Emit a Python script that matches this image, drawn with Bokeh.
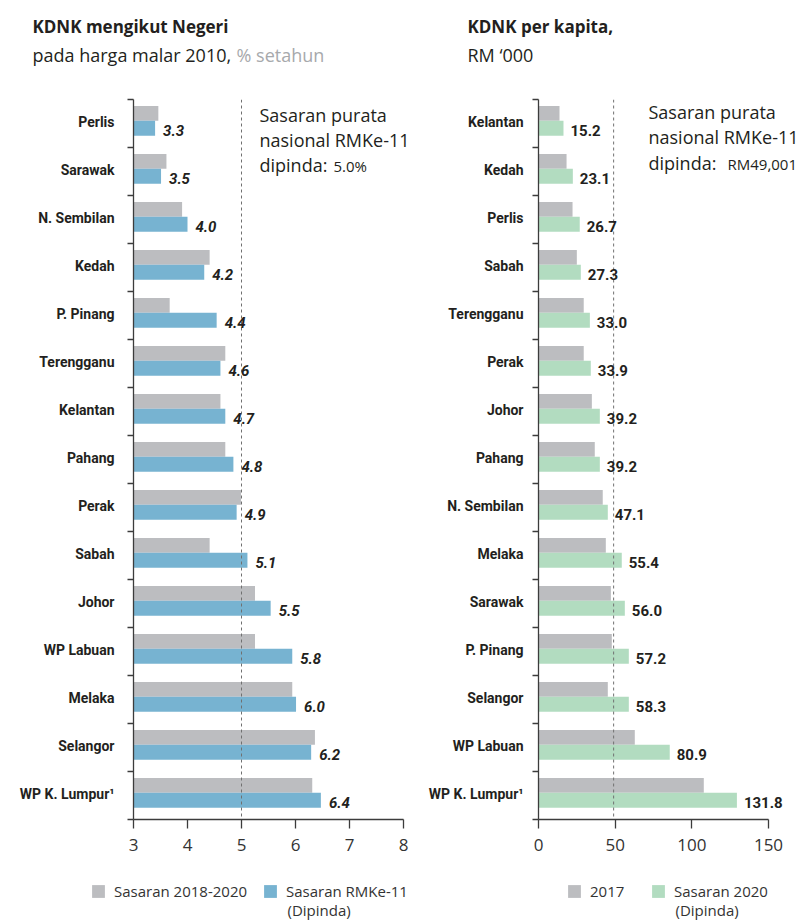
from bokeh.plotting import figure
from bokeh.models import (Range1d, FixedTicker, Span, Label, LabelSet,
                          ColumnDataSource, Legend, LegendItem)
from bokeh.layouts import row, column
from bokeh.embed import file_html
from bokeh.resources import INLINE
from bokeh.core.properties import value

# ---------------- data (top row first) ----------------
growth_states = ["Perlis", "Sarawak", "N. Sembilan", "Kedah", "P. Pinang",
                 "Terengganu", "Kelantan", "Pahang", "Perak", "Sabah",
                 "Johor", "WP Labuan", "Melaka", "Selangor", "WP K. Lumpur¹"]
growth_2018_2020 = [3.46, 3.61, 3.90, 4.41, 3.67, 4.70, 4.61, 4.70, 4.99, 4.41,
                    5.25, 5.25, 5.94, 6.36, 6.31]
growth_rmk11 = [3.40, 3.51, 4.00, 4.31, 4.54, 4.61, 4.70, 4.85, 4.91, 5.11,
                5.54, 5.94, 6.01, 6.29, 6.47]
growth_rmk11_labels = ["3.3", "3.5", "4.0", "4.2", "4.4", "4.6", "4.7", "4.8",
                       "4.9", "5.1", "5.5", "5.8", "6.0", "6.2", "6.4"]
growth_ticks = [3, 4, 5, 6, 7, 8]
growth_target = 5.0

percap_states = ["Kelantan", "Kedah", "Perlis", "Sabah", "Terengganu", "Perak",
                 "Johor", "Pahang", "N. Sembilan", "Melaka", "Sarawak",
                 "P. Pinang", "Selangor", "WP Labuan", "WP K. Lumpur¹"]
percap_2017 = [13.7, 18.3, 22.2, 25.0, 29.5, 29.5, 34.8, 36.7, 41.9, 43.9,
               47.2, 47.8, 45.2, 62.8, 107.8]
percap_2020 = [16.3, 22.4, 26.9, 27.6, 33.5, 34.1, 40.0, 40.0, 45.2, 54.3,
               56.3, 58.9, 58.9, 85.6, 129.4]
percap_2020_labels = ["15.2", "23.1", "26.7", "27.3", "33.0", "33.9", "39.2",
                      "39.2", "47.1", "55.4", "56.0", "57.2", "58.3", "80.9",
                      "131.8"]
percap_ticks = [0, 50, 100, 150]
percap_target = 49.0

# ---------------- style ----------------
TXT = "#231f20"
GREY = "#bcbdc0"
BLUE = "#77b3d1"
GREEN = "#b2dcc0"
AXIS = "#3c3c3c"
LIGHT = "#a7a9ac"
PAGE_W = 808
HEAD_H = 85
CHART_H = 775
FOOT_H = 60


def make_panel(states, v_grey, v_col, col, labels, xr, x_extra, ticks, target,
               W, bl, bt, italic, lab_x, lab_off, standoff):
    n = len(states)
    p = figure(width=W, height=CHART_H,
               x_range=Range1d(xr[0], xr[0] + (xr[1] - xr[0]) * x_extra),
               y_range=Range1d(n * 100, 0), output_backend="svg",
               toolbar_location=None, title=None, min_border_left=bl,
               min_border_right=0, min_border_top=bt, min_border_bottom=41)
    p.outline_line_color = None
    p.grid.visible = False
    p.background_fill_color = "white"
    p.border_fill_color = "white"

    src = ColumnDataSource(dict(
        yg=[i * 100 + 29 for i in range(n)],
        yc=[i * 100 + 60 for i in range(n)],
        yl=[i * 100 + 64 for i in range(n)],
        g=v_grey, c=v_col, lx=lab_x, t=labels))
    p.hbar(y="yg", left=xr[0], right="g", height=31, fill_color=GREY,
           line_color=None, source=src)
    p.hbar(y="yc", left=xr[0], right="c", height=31, fill_color=col,
           line_color=None, source=src)

    p.add_layout(Span(location=target, dimension="height", line_color="#707070",
                      line_dash="3 3", line_width=1))

    p.add_layout(LabelSet(x="lx", y="yl", text="t", source=src, x_offset=lab_off,
                          text_baseline="middle", text_align="left",
                          text_font=value("Roboto"),
                          text_font_style="bold italic" if italic else "bold",
                          text_font_size="15px", text_color=TXT))

    # x axis (line limited to the data scale)
    xa = p.xaxis[0]
    xa.bounds = (xr[0], xr[1])
    xa.ticker = FixedTicker(ticks=ticks)
    xa.axis_line_color = AXIS
    xa.axis_line_width = 1.3
    xa.major_tick_line_color = AXIS
    xa.major_tick_line_width = 1.3
    xa.major_tick_out = 9
    xa.major_tick_in = 0
    xa.minor_tick_line_color = None
    xa.major_label_standoff = 10
    xa.major_label_text_font = "Open Sans"
    xa.major_label_text_font_size = "17px"
    xa.major_label_text_color = "#333333"

    # y axis: names at row centres, ticks at row boundaries
    ya = p.yaxis[0]
    centres = [i * 100 + 46 for i in range(n)]
    ya.ticker = FixedTicker(ticks=centres,
                            minor_ticks=[k * 100 for k in range(n + 1)])
    ya.major_label_overrides = {c: s for c, s in zip(centres, states)}
    ya.axis_line_color = AXIS
    ya.axis_line_width = 1.3
    ya.major_tick_line_color = None
    ya.major_tick_out = 0
    ya.major_tick_in = 0
    ya.minor_tick_line_color = AXIS
    ya.minor_tick_line_width = 1.3
    ya.minor_tick_out = 6
    ya.minor_tick_in = 0
    ya.major_label_standoff = standoff
    ya.major_label_text_font = "Roboto"
    ya.major_label_text_font_style = "bold"
    ya.major_label_text_font_size = "14px"
    ya.major_label_text_color = TXT
    return p


def add_text(p, fl, fb, X, Y, text, size=17, style="normal",
             color=TXT, font="Open Sans"):
    """X, Y: page pixel position of the text start / baseline."""
    shift = round(0.35 * size)
    p.add_layout(Label(x=X - fl, y=fb - Y + shift, x_units="screen",
                       y_units="screen", text=text, text_baseline="alphabetic",
                       text_align="left", text_font=font,
                       text_font_size=f"{size}px", text_font_style=style,
                       text_color=color))


def blank(width, height):
    f = figure(width=width, height=height, x_range=Range1d(0, width),
               y_range=Range1d(0, height), x_axis_type=None, y_axis_type=None,
               toolbar_location=None, title=None, output_backend="svg",
               min_border=0)
    f.outline_line_color = None
    f.background_fill_color = "white"
    f.border_fill_color = "white"
    return f


# ---------------- header ----------------
hdr = blank(PAGE_W, HEAD_H)
add_text(hdr, 0, HEAD_H, 32, 32, "KDNK mengikut Negeri", style="bold")
add_text(hdr, 0, HEAD_H, 32, 60, "pada harga malar 2010,", size=18)
add_text(hdr, 0, HEAD_H, 236, 60, "% setahun", size=18, color=LIGHT)
add_text(hdr, 0, HEAD_H, 467, 32, "KDNK per kapita,", style="bold")
add_text(hdr, 0, HEAD_H, 467, 60, "RM ‘000", size=18)

# ---------------- left panel ----------------
WL = 413
BL1 = 133
lab_x_left = [max(b, g - 0.11) for b, g in zip(growth_rmk11, growth_2018_2020)]
p1 = make_panel(growth_states, growth_2018_2020, growth_rmk11, BLUE,
                growth_rmk11_labels, (3, 8), (WL - BL1) / 270.0, growth_ticks,
                growth_target, WL, BL1, 14, True, lab_x_left, 8, 13)
FB = 819
add_text(p1, BL1, FB, 259, 120, "Sasaran purata", size=18)
add_text(p1, BL1, FB, 259, 145, "nasional RMKe-11", size=18)
add_text(p1, BL1, FB, 259, 170, "dipinda:", size=18)
add_text(p1, BL1, FB, 333, 170, "5.0%", size=15)

# ---------------- right panel ----------------
WR = PAGE_W - WL
BL2 = 125
lab_x_right = [max(b, g) for b, g in zip(percap_2020, percap_2017)]
p2 = make_panel(percap_states, percap_2017, percap_2020, GREEN,
                percap_2020_labels, (0, 150), (WR - BL2) / 230.0, percap_ticks,
                percap_target, WR, BL2, 8, False, lab_x_right, 7, 9)
FL2 = WL + BL2
add_text(p2, FL2, FB, 648, 117, "Sasaran purata", size=18)
add_text(p2, FL2, FB, 648, 142, "nasional RMKe-11", size=18)
add_text(p2, FL2, FB, 648, 168, "dipinda:", size=18)
add_text(p2, FL2, FB, 727, 168, "RM49,001", size=15)

# ---------------- footer with keys ----------------
ftr = blank(PAGE_W, FOOT_H)
FT = HEAD_H + CHART_H          # page y of the footer top
keys = [(90, "Sasaran 2018-2020", GREY), (262, "Sasaran RMKe-11", BLUE),
        (566, "2017", GREY), (650, "Sasaran 2020", GREEN)]
for kx, klabel, kcol in keys:
    # key-only renderer: one undrawable point so the legend can show its swatch
    r = ftr.rect(x=[float("nan")], y=[float("nan")], width=1, height=1,
                 fill_color=kcol, line_color=None)
    ftr.add_layout(Legend(items=[LegendItem(label=klabel, renderers=[r])],
                          location=(kx, FOOT_H - (901 - FT)), padding=0,
                          margin=0, glyph_width=16, glyph_height=16,
                          label_height=16, label_standoff=8,
                          label_text_font="Open Sans",
                          label_text_font_size="15px",
                          label_text_color="#333333", border_line_color=None,
                          background_fill_alpha=0))
add_text(ftr, 0, FOOT_H + FT, 287, 914, "(Dipinda)", size=15, color="#333333")
add_text(ftr, 0, FOOT_H + FT, 675, 914, "(Dipinda)", size=15, color="#333333")

layout = column(hdr, row(p1, p2), ftr)
open("out.html", "w").write(file_html(layout, INLINE))
